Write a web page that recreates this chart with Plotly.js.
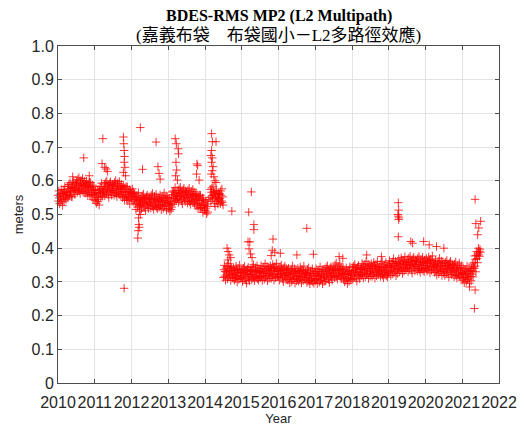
<!DOCTYPE html>
<html><head><meta charset="utf-8">
<script src="https://cdn.plot.ly/plotly-3.0.1.min.js"></script>
<style>html,body{margin:0;padding:0;background:#fff}</style>
</head><body><div id="chart" style="width:524px;height:427px"></div>
<script>
// Daily-ish samples every 4 days from Jan 1 of each year, values in mm (RMS MP2)
const sampleStepDays = 4;
const mp2_2010 = [557,540,570,549,532,561,554,537,574,544,564,527,562,573,552,540,568,583,548,559,544,565,556,
561,584,549,576,589,566,557,594,569,578,553,581,552,581,594,571,599,567,578,559,591,573,587,
596,581,566,604,591,574,610,570,586,562,593,601,578,572,588,607,568,594,583,564,599,576,590,
563,586,599,567,581,555,591,579,571,596,559,583,595,555,566,579,559,587,544,574,582,564];
const mp2_2011 = [558,541,571,550,533,562,555,538,575,545,565,528,572,583,562,550,578,593,558,569,554,575,566,
567,590,555,582,595,572,563,600,575,584,559,587,550,579,592,569,597,565,576,557,589,571,585,
587,572,557,595,582,565,601,561,577,553,584,592,569,563,579,598,559,585,574,555,590,567,581,
550,573,586,554,568,542,578,566,558,583,546,560,582,542,553,566,546,574,531,561,569,551];
const mp2_2012 = [563,546,576,555,538,567,560,543,562,532,552,515,544,555,534,522,550,565,530,541,526,547,538,
528,551,516,543,556,533,524,561,536,545,520,548,511,540,553,530,558,526,537,518,550,532,546,
549,534,519,557,544,527,563,523,539,515,546,554,531,525,541,560,521,547,536,517,552,529,543,
522,545,558,526,540,514,550,538,530,555,518,542,564,524,535,548,528,556,513,543,551,533];
const mp2_2013 = [535,518,548,527,510,539,532,515,552,522,567,530,559,570,549,537,565,580,545,556,541,562,553,
548,571,536,563,576,553,544,581,556,565,540,568,531,560,573,550,578,546,557,538,570,552,566,
564,549,534,572,559,542,578,538,554,530,561,569,546,540,556,575,536,562,551,532,567,544,558,
525,548,561,529,543,517,553,541,533,558,521,557,517,528,541,521,549,506,536,544,526,513];
const mp2_2014 = [528,511,540,519,502,531,524,507,544,null,null,null,null,
551,574,539,566,579,556,547,584,559,568,533,561,524,553,566,543,571,539,550,531,563,545,559,562,547,532,570,557,540,576,536,552,528,
313,336,349,317,331,305,341,329,321,346,309,333,355,315,326,339,319,347,304,334,342,324,311,
330,313,343,322,305,334,327,310,347,317,337,300,329,340,319,307,335,350,315,326,311,332];
const mp2_2015 = [313,336,301,328,341,318,309,346,321,330,305,333,296,325,338,315,343,311,322,303,335,317,331,
337,322,307,345,332,315,351,311,327,303,334,342,319,313,329,348,309,335,324,305,340,317,331,
312,335,348,316,330,304,340,328,320,345,308,332,354,314,325,338,318,346,303,333,341,323,310,
335,318,348,327,310,339,332,315,352,322,342,305,334,345,324,312,340,355,320,331,316,337];
const mp2_2016 = [317,340,305,332,345,322,313,350,325,334,309,337,300,329,342,319,347,315,326,307,339,321,335,
305,328,341,309,323,297,333,321,313,338,301,325,347,307,318,331,311,339,296,326,334,316,303,
327,310,340,319,302,331,324,307,344,314,334,297,326,337,316,304,332,347,312,323,308,329,320,
328,313,298,336,323,306,342,302,318,294,325,333,310,304,320,339,300,326,315,296,331,308];
const mp2_2017 = [303,326,339,307,321,295,331,319,311,336,299,323,345,305,316,329,309,337,294,324,332,314,301,
315,338,303,330,343,320,311,348,323,332,307,335,298,327,340,317,345,313,324,305,337,319,333,
342,327,312,350,337,320,356,316,332,308,339,347,324,318,334,353,314,340,329,310,345,322,336,
325,308,338,317,300,329,322,305,342,312,332,295,324,335,314,302,330,345,310,321,306,327];
const mp2_2018 = [319,342,307,334,347,324,315,352,327,336,311,339,302,331,344,321,349,317,328,309,341,323,337,
319,342,355,323,337,311,347,335,327,352,315,339,361,321,332,345,325,353,310,340,348,330,317,
341,324,354,333,316,345,338,321,358,328,348,311,340,351,330,318,346,361,326,337,322,343,334,
346,331,316,354,341,324,360,320,336,312,343,351,328,322,338,357,318,344,333,314,349,326];
const mp2_2019 = [327,350,363,331,345,319,355,343,335,360,323,347,369,329,340,353,333,361,318,348,356,338,325,
355,338,368,347,330,359,352,335,372,342,362,325,354,365,344,332,360,375,340,351,336,357,348,
343,366,331,358,371,348,339,376,351,360,335,363,326,355,368,345,373,341,352,333,365,347,361,
362,347,332,370,357,340,376,336,352,328,359,367,344,338,354,373,334,360,349,330,365,342];
const mp2_2020 = [357,340,370,349,332,361,354,337,374,344,364,327,356,367,346,334,362,377,342,353,338,359,350,
328,351,364,332,346,320,356,344,336,361,324,348,370,330,341,354,334,362,319,349,357,339,326,
331,354,319,346,359,336,327,364,339,348,323,351,314,343,356,333,361,329,340,321,353,335,349,
345,330,315,353,340,323,359,319,335,311,342,350,327,321,337,356,317,343,332,313,348,325];
const mp2_2021 = [305,328,341,309,323,297,333,321,313,338,301,325,347,307,318,331,311,339,296,326,334,316,303,
340,323,353,332,315,344,357,340,377,347,367,330,379,390,369,357,385,400,380,391,376,397,388];

// Isolated points (decimal year, metres)
const outlierYears = [2010.70,2010.85,2010.40,2011.22,2011.20,2011.27,2011.31,2011.35,2011.78,2011.79,2011.80,2011.81,2011.80,2011.82,2011.78,2011.84,2011.80,
2012.17,2012.18,2012.20,2012.19,2012.22,2012.21,2012.24,2012.24,2012.30,2012.67,2012.72,2012.75,2012.78,
2013.19,2013.22,2013.27,2013.28,2013.21,2013.23,2013.20,2013.25,2013.78,2013.80,2013.77,2013.84,
2014.18,2014.20,2014.30,2014.18,2014.16,2014.20,2014.18,2014.22,2014.20,2014.17,2014.24,2014.27,2014.30,2014.60,2014.63,2014.66,2014.70,2014.62,2014.73,
2015.17,2015.22,2015.19,2015.26,2015.33,2015.33,2015.20,2015.24,2015.28,2015.85,2015.83,2015.90,2015.80,
2016.05,2016.50,2016.77,2016.95,2017.65,2017.75,2018.40,2018.80,
2019.26,2019.27,2019.25,2019.26,2019.28,2019.27,2019.26,2019.60,2019.65,2019.95,2020.10,2020.30,2020.50,
2021.35,2021.37,2021.50,2021.45,2021.42,2021.35,2021.33,2021.20];
const outlierValues = [0.668,0.615,0.612,0.725,0.651,0.640,0.635,0.628,0.730,0.710,0.690,0.672,0.655,0.640,0.625,0.615,0.281,
0.430,0.452,0.470,0.490,0.510,0.462,0.500,0.758,0.634,0.715,0.642,0.622,0.605,
0.725,0.710,0.695,0.680,0.655,0.632,0.615,0.602,0.650,0.645,0.620,0.602,
0.740,0.716,0.716,0.690,0.675,0.668,0.655,0.642,0.630,0.620,0.612,0.600,0.595,0.400,0.390,0.380,0.372,0.365,0.510,
0.419,0.419,0.507,0.567,0.470,0.455,0.398,0.383,0.372,0.427,0.394,0.388,0.378,
0.385,0.380,0.459,0.382,0.375,0.370,0.380,0.375,
0.535,0.513,0.500,0.495,0.490,0.485,0.434,0.420,0.415,0.420,0.410,0.405,0.400,
0.545,0.473,0.480,0.460,0.440,0.276,0.221,0.285];

const xTickVals = [2010,2011,2012,2013,2014,2015,2016,2017,2018,2019,2020,2021,2022];
const yTickVals = [0,0.1,0.2,0.3,0.4,0.5,0.6,0.7,0.8,0.9,1.0];
const yTickText = ['0','0.1','0.2','0.3','0.4','0.5','0.6','0.7','0.8','0.9','1.0'];
const titleLine1 = 'BDES-RMS MP2 (L2 Multipath)';
const titleLine2 = '(嘉義布袋　布袋國小－L2多路徑效應)';

const seriesYears = [2010,2011,2012,2013,2014,2015,2016,2017,2018,2019,2020,2021];
const seriesData = [mp2_2010,mp2_2011,mp2_2012,mp2_2013,mp2_2014,mp2_2015,mp2_2016,mp2_2017,mp2_2018,mp2_2019,mp2_2020,mp2_2021];

const xs = [], ys = [];
seriesData.forEach((arr, k) => {
  arr.forEach((v, i) => {
    if (v === null) return;
    xs.push(seriesYears[k] + i * sampleStepDays / 365);
    ys.push(v / 1000);
  });
});
outlierYears.forEach((x, i) => { xs.push(x); ys.push(outlierValues[i]); });

const axisColor = '#4d4d4d';
const tickFont = {family: 'Liberation Sans, Arial, sans-serif', size: 16, color: '#262626'};

const data = [{
  type: 'scatter', mode: 'markers', x: xs, y: ys, cliponaxis: false,
  marker: {symbol: 'cross-thin-open', size: 6, color: '#ff0000', line: {color: 'rgba(255,0,0,0.85)', width: 0.8}},
  hoverinfo: 'skip'
}];

const layout = {
  width: 524, height: 427,
  margin: {l: 58, r: 25, t: 46, b: 44},
  paper_bgcolor: '#ffffff', plot_bgcolor: '#ffffff',
  showlegend: false,
  xaxis: {
    range: [2010, 2022], tickmode: 'array', tickvals: xTickVals, ticktext: xTickVals.map(String),
    tickangle: 0, automargin: false, ticklabelstandoff: 5,
    ticks: 'inside', ticklen: 4, tickcolor: axisColor, mirror: 'ticks',
    showline: true, linecolor: axisColor, linewidth: 1,
    showgrid: true, gridcolor: '#e3e3e3', gridwidth: 1, zeroline: false,
    tickfont: tickFont,
    title: {text: 'Year', font: {family: 'Liberation Sans, Arial, sans-serif', size: 13, color: '#262626'}, standoff: 2}
  },
  yaxis: {
    range: [0, 1], tickmode: 'array', tickvals: yTickVals, ticktext: yTickText,
    automargin: false,
    ticks: 'inside', ticklen: 4, tickcolor: axisColor, mirror: 'ticks',
    showline: true, linecolor: axisColor, linewidth: 1,
    showgrid: true, gridcolor: '#e3e3e3', gridwidth: 1, zeroline: false,
    tickfont: tickFont,
    title: {text: 'meters', font: {family: 'Liberation Sans, Arial, sans-serif', size: 13, color: '#262626'}, standoff: 4}
  },
  annotations: [
    {text: '<b>' + titleLine1 + '</b>', xref: 'paper', yref: 'paper', x: 0.5, y: 1.089, xanchor: 'center', yanchor: 'middle', showarrow: false,
     font: {family: 'Liberation Serif, Times New Roman, serif', size: 16, color: '#000000'}},
    {text: titleLine2, xref: 'paper', yref: 'paper', x: 0.5, y: 1.033, xanchor: 'center', yanchor: 'middle', showarrow: false,
     font: {family: 'Liberation Serif, Noto Sans CJK TC, serif', size: 17, color: '#000000'}}
  ]
};

Plotly.newPlot('chart', data, layout, {staticPlot: true, displayModeBar: false});
</script>
</body></html>
